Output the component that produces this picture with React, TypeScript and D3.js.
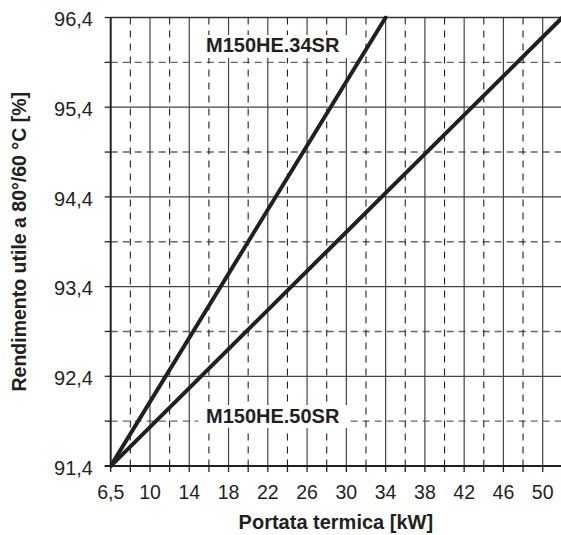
import React from "react";
import * as d3 from "d3";

const X_TICKS = [6.5, 10, 14, 18, 22, 26, 30, 34, 38, 42, 46, 50];
const X_TICK_LABELS = ["6,5", "10", "14", "18", "22", "26", "30", "34", "38", "42", "46", "50"];
const Y_TICKS = [91.4, 92.4, 93.4, 94.4, 95.4, 96.4];
const Y_TICK_LABELS = ["91,4", "92,4", "93,4", "94,4", "95,4", "96,4"];
const Y_MINOR = [91.9, 92.9, 93.9, 94.9, 95.9];

const SERIES_34_KW = [6.5, 34];
const SERIES_34_EFF = [91.4, 96.4];
const SERIES_50_KW = [6.5, 52];
const SERIES_50_EFF = [91.4, 96.4];
const SERIES_NAMES = ["M150HE.34SR", "M150HE.50SR"];

const X_TITLE = "Portata termica [kW]";
const Y_TITLE = "Rendimento utile a 80°/60 °C [%]";

const W = 561;
const H = 535;
const L = 110.7;
const R = 561;
const T = 17.5;
const B = 466;
const STEP = 9.8175;

export default function App() {
  const x = d3
    .scaleLinear()
    .domain([6.5, 10, 52])
    .range([L, L + 39.3, L + 39.3 + 42 * STEP]);
  const y = d3.scaleLinear().domain([91.4, 96.4]).range([B, T]);

  const xMinorPx: number[] = [];
  for (let i = 0; i < X_TICKS.length; i++) {
    const a = x(X_TICKS[i]);
    const b = i + 1 < X_TICKS.length ? x(X_TICKS[i + 1]) : a + 4 * STEP;
    const m = (a + b) / 2;
    if (m < R) xMinorPx.push(m);
  }

  const line = d3
    .line<[number, number]>()
    .x((d) => x(d[0]))
    .y((d) => y(d[1]));
  const s34: [number, number][] = SERIES_34_KW.map((k, i) => [k, SERIES_34_EFF[i]]);
  const s50: [number, number][] = SERIES_50_KW.map((k, i) => [k, SERIES_50_EFF[i]]);

  const font = "'Liberation Sans', Arial, Helvetica, sans-serif";
  const ink = "#231f20";

  return (
    <svg
      width={W}
      height={H}
      style={{ position: "absolute", left: 0, top: 0, background: "#fff" }}
      fontFamily={font}
    >
      <defs>
        <clipPath id="plot">
          <rect x={L} y={T - 2} width={R - L} height={B - T + 4} />
        </clipPath>
      </defs>
      {Y_MINOR.map((v) => (
        <line key={"hy" + v} x1={L} x2={R} y1={y(v)} y2={y(v)} stroke="#666" strokeWidth={1.4} strokeDasharray="7,5" />
      ))}
      {xMinorPx.map((px, i) => (
        <line key={"vx" + i} x1={px} x2={px} y1={T} y2={B} stroke="#222" strokeWidth={1.1} strokeDasharray="7,6" />
      ))}
      {Y_TICKS.map((v) => (
        <line key={"hY" + v} x1={L} x2={R} y1={y(v)} y2={y(v)} stroke="#444" strokeWidth={1.2} />
      ))}
      {X_TICKS.slice(1).map((v) => (
        <line key={"vX" + v} x1={x(v)} x2={x(v)} y1={T} y2={B} stroke="#444" strokeWidth={1.2} />
      ))}

      <rect x={198} y={35} width={150} height={23} fill="#fff" />
      <rect x={198} y={405} width={152} height={23} fill="#fff" />
      <text x={206} y={52} fontSize={20} fontWeight="bold" fill={ink}>
        {SERIES_NAMES[0]}
      </text>
      <text x={206} y={423} fontSize={20} fontWeight="bold" fill={ink}>
        {SERIES_NAMES[1]}
      </text>

      <line x1={L} x2={R} y1={T} y2={T} stroke="#333" strokeWidth={1.6} />
      <line x1={L} x2={L} y1={T} y2={B} stroke={ink} strokeWidth={2} />
      <line x1={L - 6} x2={R} y1={B} y2={B} stroke={ink} strokeWidth={2} />
      {Y_TICKS.concat(Y_MINOR).map((v) => (
        <line key={"ty" + v} x1={L - 6} x2={L} y1={y(v)} y2={y(v)} stroke={ink} strokeWidth={1.3} />
      ))}
      {X_TICKS.map((v) => (
        <line key={"tx" + v} x1={x(v)} x2={x(v)} y1={B} y2={B + 6} stroke={ink} strokeWidth={1.3} />
      ))}
      {xMinorPx.map((px, i) => (
        <line key={"txm" + i} x1={px} x2={px} y1={B} y2={B + 6} stroke={ink} strokeWidth={1.3} />
      ))}

      <g clipPath="url(#plot)">
        <path d={line(s34) || ""} fill="none" stroke={ink} strokeWidth={4} strokeLinecap="round" />
        <path d={line(s50) || ""} fill="none" stroke={ink} strokeWidth={4} strokeLinecap="round" />
      </g>

      {Y_TICKS.map((v, i) => (
        <text key={"ly" + v} x={93} y={y(v)} dy="0.43em" textAnchor="end" fontSize={20} fill={ink}>
          {Y_TICK_LABELS[i]}
        </text>
      ))}
      {X_TICKS.map((v, i) => (
        <text key={"lx" + v} x={x(v)} y={499} textAnchor="middle" fontSize={19.5} fill={ink}>
          {X_TICK_LABELS[i]}
        </text>
      ))}

      <text x={(L + R) / 2} y={529} textAnchor="middle" fontSize={20} fontWeight="bold" fill={ink}>
        {X_TITLE}
      </text>
      <text
        transform={`translate(26,${(T + B) / 2}) rotate(-90)`}
        textAnchor="middle"
        fontSize={19.5}
        fontWeight="bold"
        fill={ink}
      >
        {Y_TITLE}
      </text>
    </svg>
  );
}
